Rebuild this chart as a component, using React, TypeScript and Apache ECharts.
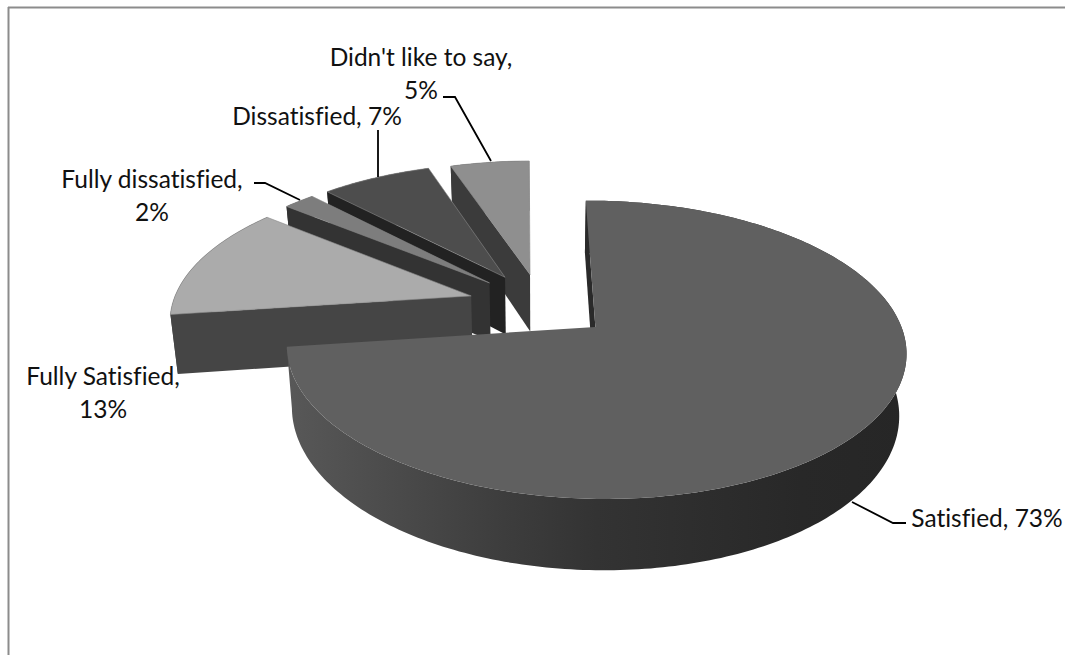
import React, { useEffect, useRef } from "react";
import * as echarts from "echarts";

const categories = ["Satisfied", "Fully Satisfied", "Fully dissatisfied", "Dissatisfied", "Didn't like to say"];
const shares = [73, 13, 2, 7, 5];

const topColors = ["#606060", "#ababab", "#7d7d7d", "#4d4d4d", "#8f8f8f"];
const wallColors = ["#2a2a2a", "#454545", "#333333", "#222222", "#3b3b3b"];

// Leader lines and label anchors, in page pixels.
const labelCenters = [[987, 517], [103, 392], [152, 195], [317, 115], [421, 73]];
const labelBreaks = [false, true, true, false, true];
const leaders = [
  [[852, 502], [893, 523], [906, 523]],
  [],
  [[300, 200], [265, 183], [254, 183]],
  [[378, 177], [378, 130]],
  [[491, 161], [455, 97], [443, 97]],
];

// Projection of the tilted disc: unit disc (u right, v towards the viewer) onto the page.
const CENTER_X = 541;
const CENTER_Y = 305;
const SCALE_X = 299;
const SCALE_Y = 139;
const PERSPECTIVE = 0.15;
const THICKNESS = 59;
const BASE_SHRINK = 0.98;
const EXPLODE = [0.235, 0.245, 0.24, 0.24, 0.23];
const START_ANGLE = -0.5;

function project(u: number, v: number, lower: boolean): number[] {
  const s = 1 / (1 - PERSPECTIVE * v);
  const x = CENTER_X + SCALE_X * u * s;
  const y = CENTER_Y + SCALE_Y * v * s;
  if (!lower) return [x, y];
  return [CENTER_X + (x - CENTER_X) * BASE_SHRINK, y + THICKNESS * s];
}

const dir = (deg: number) => {
  const r = (deg * Math.PI) / 180;
  return [Math.sin(r), -Math.cos(r)];
};

function renderSlice(params: any, api: any) {
  const idx = params.dataIndex;
  const total = shares.reduce((a, b) => a + b, 0);
  const before = shares.slice(0, idx).reduce((a, b) => a + b, 0);
  const value = api.value(0);
  const a0 = START_ANGLE + (before / total) * 360;
  const a1 = a0 + (value / total) * 360;
  const mid = dir((a0 + a1) / 2);
  const ox = mid[0] * EXPLODE[idx];
  const oy = mid[1] * EXPLODE[idx];

  const arc: number[][] = [];
  const steps = Math.max(8, Math.ceil(a1 - a0));
  for (let i = 0; i <= steps; i++) {
    const d = dir(a0 + ((a1 - a0) * i) / steps);
    arc.push([ox + d[0], oy + d[1]]);
  }
  const apex = [ox, oy];
  const top = (p: number[]) => project(p[0], p[1], false);
  const low = (p: number[]) => project(p[0], p[1], true);

  // Slices are painted back to front: the last slices lie furthest from the viewer.
  const base = (shares.length - idx) * 10;
  const outerFill =
    idx === 0
      ? new echarts.graphic.LinearGradient(0, 0, 1, 0, [
          { offset: 0, color: "#585858" },
          { offset: 0.35, color: "#3d3d3d" },
          { offset: 0.5, color: "#333333" },
          { offset: 0.83, color: "#282828" },
          { offset: 1, color: "#262626" },
        ])
      : wallColors[idx];

  const children: any[] = [
    {
      type: "polygon",
      z2: base,
      shape: { points: [...arc.map(top), ...arc.slice().reverse().map(low)] },
      style: { fill: outerFill },
    },
    {
      // only the wall along the slice's leading edge faces the viewer
      type: "polygon",
      z2: base + 1,
      shape: { points: [top(arc[0]), top(apex), low(apex), low(arc[0])] },
      style: { fill: wallColors[idx] },
    },
    {
      type: "polygon",
      z2: base + 2,
      shape: { points: [top(apex), ...arc.map(top)] },
      style: idx === 0 ? { fill: topColors[idx] } : { fill: topColors[idx], stroke: "#8a8a8a", lineWidth: 0.6 },
    },
  ];

  const name = categories[idx];
  const [lx, ly] = labelCenters[idx];
  children.push({
    type: "text",
    z2: 200,
    style: {
      x: lx,
      y: ly,
      text: labelBreaks[idx] ? `${name},\n${value}%` : `${name}, ${value}%`,
      fontFamily: "Lato",
      fontSize: 24.5,
      lineHeight: 33,
      fill: "#111111",
      textAlign: "center",
      textVerticalAlign: "middle",
    },
  });
  if (leaders[idx].length) {
    children.push({
      type: "polyline",
      z2: 190,
      shape: { points: leaders[idx] },
      style: { stroke: "#000000", lineWidth: 1.8, fill: "none" },
    });
  }
  return { type: "group", children };
}

export default function App() {
  const ref = useRef<HTMLDivElement>(null);
  useEffect(() => {
    const chart = echarts.init(ref.current!, undefined, { renderer: "svg" });
    chart.setOption({
      animation: false,
      backgroundColor: "#ffffff",
      graphic: [
        { type: "line", shape: { x1: 8, y1: 7.5, x2: 1065, y2: 7.5 }, style: { stroke: "#8c8c8c", lineWidth: 2 } },
        { type: "line", shape: { x1: 8.5, y1: 7, x2: 8.5, y2: 655 }, style: { stroke: "#8c8c8c", lineWidth: 2 } },
      ],
      series: [
        {
          type: "custom",
          coordinateSystem: "none",
          renderItem: renderSlice,
          data: shares.map((v, i) => ({ name: categories[i], value: [v] })),
        },
      ],
    });
    return () => chart.dispose();
  }, []);
  return (
    <>
      <style>{"text { font-variant-ligatures: none !important; }"}</style>
      <div ref={ref} style={{ position: "fixed", left: 0, top: 0, width: 1065, height: 655 }} />
    </>
  );
}
